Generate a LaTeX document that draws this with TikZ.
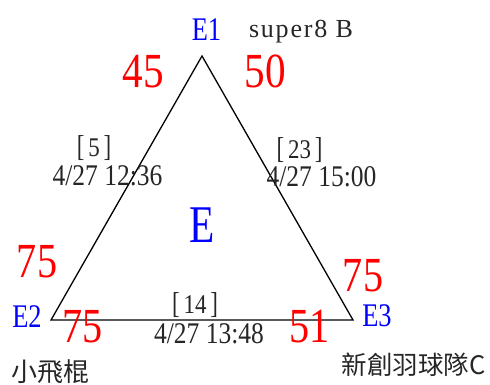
\documentclass[tikz,border=0pt]{standalone}
\usepackage{fontspec}
\setmainfont{Liberation Serif}
\newfontfamily\cjk{Noto Sans CJK TC}
\newfontfamily\spaced[LetterSpace=7]{Liberation Serif}
\newcommand\sx[2]{\scalebox{#1}[1]{#2}}
\newcommand\brk[1]{\scalebox{1}[1.12]{[}\,#1\,\scalebox{1}[1.12]{]}}
\begin{document}
\begin{tikzpicture}[x=1pt,y=-1pt,
  every node/.style={inner sep=0pt, outer sep=0pt},
  num/.style={text=red, font=\fontsize{49}{49}\selectfont},
  vname/.style={text=blue, font=\fontsize{33}{33}\selectfont},
  big/.style={text=blue, font=\fontsize{53}{53}\selectfont},
  info/.style={text=black!85, font=\fontsize{30}{30}\selectfont},
  tag/.style={text=black!85, font=\fontsize{27}{27}\selectfont, text depth=0pt},
  team/.style={text=black!85, font=\cjk\fontsize{26}{26}\selectfont},
  edge/.style={line width=1.3pt, black, line join=miter}]
\useasboundingbox (0,0) rectangle (490,385);
\coordinate (A) at (202,56);
\coordinate (B) at (51,320);
\coordinate (C) at (353,320);
\draw[edge] (A) -- (B) -- (C) -- cycle;
% vertex names
\node[vname] (e1) at (206.5,29.5) {\sx{0.8}{E1}};
\node[vname] (e2) at (27,316.5) {\sx{0.8}{E2}};
\node[vname] (e3) at (377,316) {\sx{0.8}{E3}};
\node[big] (e) at (202.5,225.5) {\sx{0.78}{E}};
% team names
\node[text=black!85, font=\spaced\fontsize{26}{26}\selectfont, anchor=base west] (t1) at (249,38) {super8 B};
\node[team] (t2) at (51,371.5) {小飛棍};
\node[team, font=\cjk\fontsize{25.5}{25.5}\selectfont] (t3) at (413.5,365) {新創羽球隊C};
% scores
\node[num] (s1) at (143.5,71.5) {\sx{0.84}{45}};
\node[num] (s2) at (265.5,71.5) {\sx{0.84}{50}};
\node[num] (s3) at (37,261.5) {\sx{0.82}{75}};
\node[num] (s4) at (363,276) {\sx{0.82}{75}};
\node[num] (s5) at (82.5,326.5) {\sx{0.82}{75}};
\node[num] (s6) at (309.5,326.5) {\sx{0.82}{51}};
% match info
\node[tag, anchor=base] (m1) at (94,157) {\sx{0.85}{\brk{5}}};
\node[info] (d1) at (107.5,176) {\sx{0.85}{4/27 12:36}};
\node[tag, anchor=base] (m2) at (299.5,159) {\sx{0.85}{\brk{23}}};
\node[info] (d2) at (321.5,177) {\sx{0.85}{4/27 15:00}};
\node[tag, anchor=base] (m3) at (195,313) {\sx{0.85}{\brk{14}}};
\node[info] (d3) at (209,334) {\sx{0.85}{4/27 13:48}};
\end{tikzpicture}
\end{document}
